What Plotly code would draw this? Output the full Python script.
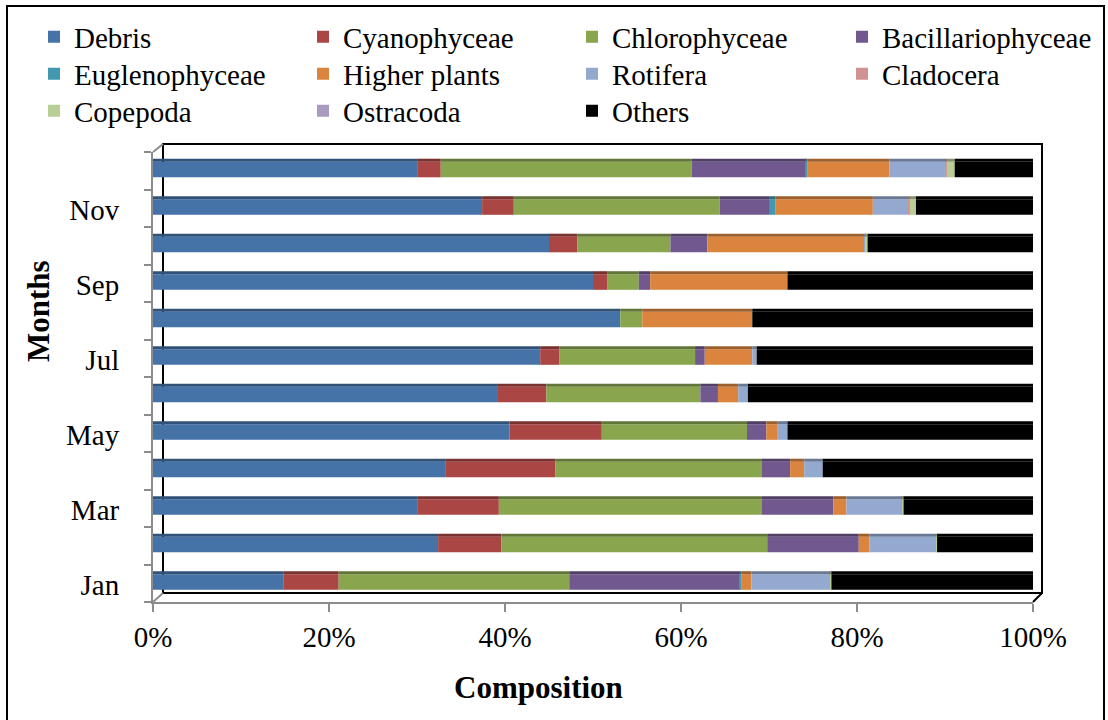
import numpy as np
import plotly.graph_objects as go

# ---- data (percent composition per month) ----
months = ["Jan", "Feb", "Mar", "Apr", "May", "Jun",
          "Jul", "Aug", "Sep", "Oct", "Nov", "Dec"]

debris       = [14.8, 32.4, 30.1, 33.2, 40.5, 39.1, 44.0, 53.1, 50.0, 45.0, 37.4, 30.1]
cyanophyceae = [6.3, 7.2, 9.2, 12.5, 10.5, 5.6, 2.2, 0.0, 1.6, 3.2, 3.6, 2.6]
chlorophyceae = [26.2, 30.2, 29.9, 23.5, 16.5, 17.5, 15.4, 2.5, 3.6, 10.6, 23.4, 28.5]
bacillariophyceae = [19.4, 10.4, 8.1, 3.2, 2.2, 2.0, 1.1, 0.0, 1.3, 4.2, 5.7, 13.0]
euglenophyceae = [0.2, 0.0, 0.0, 0.0, 0.0, 0.0, 0.0, 0.0, 0.0, 0.0, 0.6, 0.2]
higher_plants = [1.1, 1.2, 1.5, 1.6, 1.3, 2.3, 5.4, 12.5, 15.6, 17.8, 11.1, 9.3]
rotifera     = [8.9, 7.6, 6.3, 2.1, 1.1, 1.1, 0.5, 0.0, 0.0, 0.2, 4.0, 6.3]
cladocera    = [0.1, 0.0, 0.1, 0.0, 0.0, 0.0, 0.0, 0.0, 0.0, 0.0, 0.2, 0.2]
copepoda     = [0.1, 0.1, 0.1, 0.0, 0.0, 0.0, 0.0, 0.0, 0.0, 0.2, 0.7, 0.9]
ostracoda    = [0.0] * 12
others       = [22.9, 10.9, 14.7, 23.9, 27.9, 32.4, 31.4, 31.9, 27.9, 18.8, 13.3, 8.9]

series_names = ["Debris", "Cyanophyceae", "Chlorophyceae", "Bacillariophyceae",
                "Euglenophyceae", "Higher plants", "Rotifera", "Cladocera",
                "Copepoda", "Ostracoda", "Others"]
series_values = [debris, cyanophyceae, chlorophyceae, bacillariophyceae,
                 euglenophyceae, higher_plants, rotifera, cladocera,
                 copepoda, ostracoda, others]
series_colors = ["#4572A7", "#AA4643", "#89A54E", "#71588F", "#4198AF",
                 "#DB843D", "#93A9CF", "#D19392", "#B9CD96", "#A99BBD", "#000000"]

x_ticks = [0, 20, 40, 60, 80, 100]
x_tick_labels = ["0%", "20%", "40%", "60%", "80%", "100%"]

# ---- page geometry ----
W_PX, H_PX = 1108, 720
L, R, T, B = 153, 75, 152, 118
PW = W_PX - L - R
PH = H_PX - T - B
FONT = "Liberation Serif, Times New Roman, serif"


def px_x(px):
    return (px - L) / PW


def px_y(py):
    return (H_PX - B - py) / PH


def darker(hex_color, f=0.72):
    h = hex_color.lstrip("#")
    r, g, b = (int(h[i:i + 2], 16) for i in (0, 2, 4))
    return "rgb({},{},{})".format(int(r * f), int(g * f), int(b * f))


def serif(size, bold=False):
    return dict(family=FONT, size=size, color="black",
                weight="bold" if bold else "normal")


rows = np.arange(len(months))
fig = go.Figure()

cum = np.zeros(len(months))
for i, (name, vals, col) in enumerate(zip(series_names, series_values, series_colors)):
    vals = np.asarray(vals, dtype=float)
    legend_id = "legend" if i == 0 else "legend{}".format(i + 1)
    # front face of the bar
    fig.add_trace(go.Bar(
        y=rows, x=vals, base=cum, orientation="h",
        offset=-0.255, width=0.416,
        marker=dict(color=col, line=dict(width=0)),
        name=name, legend=legend_id,
    ))
    # darker top face giving the bars their depth
    fig.add_trace(go.Bar(
        y=rows, x=vals, base=cum, orientation="h",
        offset=0.161, width=0.08,
        marker=dict(color=darker(col), line=dict(width=0)),
        showlegend=False, hoverinfo="skip",
    ))
    cum = cum + vals

# one small legend per entry, laid out in a 4-column grid
legend_cols = [34, 303, 572, 842]
legend_rows = [37, 74, 111]
legends = {}
for i in range(len(series_names)):
    key = "legend" if i == 0 else "legend{}".format(i + 1)
    legends[key] = dict(
        x=px_x(legend_cols[i % 4]), xanchor="left",
        y=px_y(legend_rows[i // 4]), yanchor="middle",
        orientation="v", bgcolor="rgba(0,0,0,0)", borderwidth=0,
        font=serif(29),
    )

AX_GRAY = "#8c8c8c"

shapes = [
    # outer chart border
    dict(type="rect", xref="paper", yref="paper",
         x0=px_x(7), x1=px_x(1104), y0=px_y(6), y1=px_y(726),
         line=dict(color="black", width=2), fillcolor="rgba(0,0,0,0)"),
    # back wall / floor outline
    dict(type="rect", xref="paper", yref="paper", layer="below",
         x0=px_x(163), x1=px_x(1042), y0=px_y(144), y1=px_y(593),
         line=dict(color="black", width=2), fillcolor="rgba(0,0,0,0)"),
    dict(type="line", xref="paper", yref="paper", layer="below",
         x0=px_x(L), y0=px_y(T), x1=px_x(163), y1=px_y(144),
         line=dict(color=AX_GRAY, width=2)),
    dict(type="line", xref="paper", yref="paper", layer="below",
         x0=px_x(L), y0=px_y(H_PX - B), x1=px_x(163), y1=px_y(593),
         line=dict(color=AX_GRAY, width=2)),
    dict(type="line", xref="paper", yref="paper", layer="below",
         x0=px_x(L + PW), y0=px_y(H_PX - B), x1=px_x(1042), y1=px_y(593),
         line=dict(color="black", width=2)),
]

annotations = [
    dict(text="Composition", xref="paper", yref="paper",
         x=px_x(538), y=px_y(687), xanchor="center", yanchor="middle",
         showarrow=False, font=serif(31, bold=True)),
    dict(text="Months", xref="paper", yref="paper",
         x=px_x(38), y=px_y(311), xanchor="center", yanchor="middle",
         textangle=-90, showarrow=False, font=serif(31, bold=True)),
]

fig.update_layout(
    width=W_PX, height=H_PX,
    margin=dict(l=L, r=R, t=T, b=B, autoexpand=False),
    paper_bgcolor="white", plot_bgcolor="white",
    barmode="overlay",
    font=serif(29),
    shapes=shapes, annotations=annotations,
    xaxis=dict(
        range=[0, 100], tickmode="array", tickvals=x_ticks, ticktext=x_tick_labels,
        showgrid=False, zeroline=False,
        showline=True, linecolor=AX_GRAY, linewidth=2,
        ticks="outside", ticklen=8, tickwidth=2, tickcolor=AX_GRAY,
        tickfont=serif(29),
        fixedrange=True,
    ),
    yaxis=dict(
        range=[-0.58, 11.42], tickmode="array",
        tickvals=list(rows[::2]), ticktext=months[::2],
        showgrid=False, zeroline=False,
        showline=True, linecolor=AX_GRAY, linewidth=2,
        ticks="", ticklabelshift=5, ticklabelstandoff=26,
        minor=dict(ticks="outside", tickmode="linear", tick0=-0.58, dtick=1,
                   ticklen=7, tickwidth=2, tickcolor=AX_GRAY, showgrid=False),
        tickfont=serif(29),
        fixedrange=True,
    ),
    **legends,
)

fig.write_html("out.html")
